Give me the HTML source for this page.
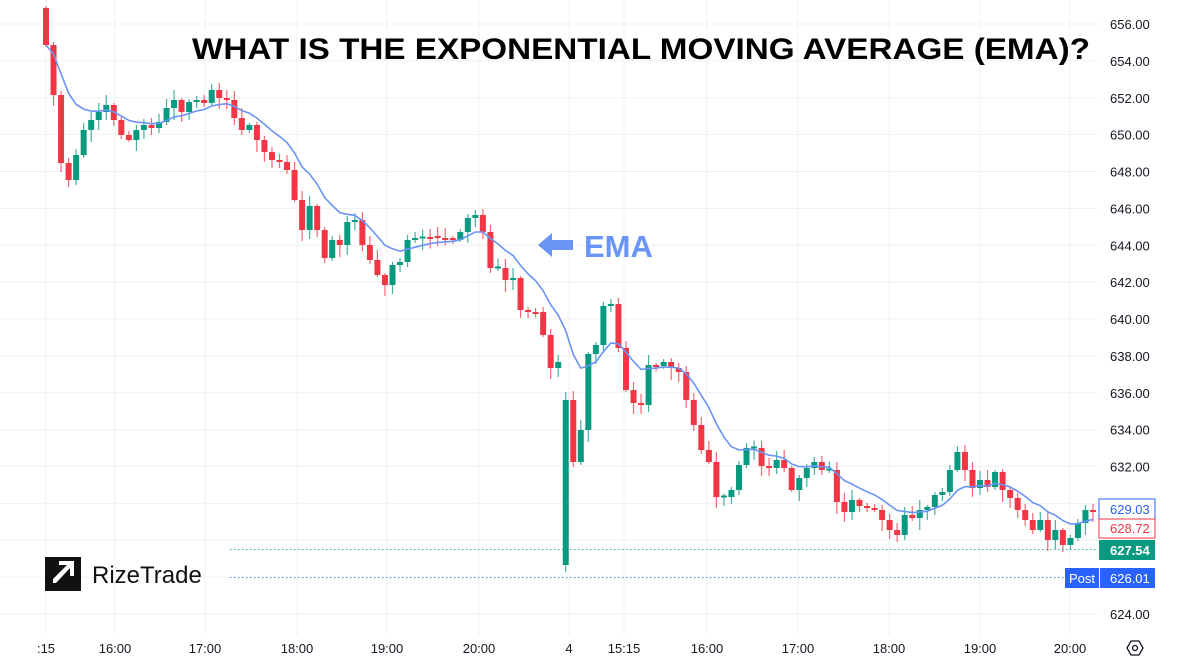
<!DOCTYPE html>
<html><head><meta charset="utf-8"><style>
html,body{margin:0;padding:0;background:#fff;}
svg{display:block;font-family:"Liberation Sans",sans-serif;}
</style></head><body>
<svg id="s" width="1200" height="663" xmlns="http://www.w3.org/2000/svg">
<g id="grid" stroke="#f0f1f3" stroke-width="1"></g>
<g id="candles"></g>
<polyline id="ema" fill="none" stroke="#6a94f5" stroke-width="1.6"/>
<line x1="230" y1="549.5" x2="1098" y2="549.5" stroke="#089981" stroke-width="1" stroke-dasharray="1.5,2.5" opacity="0.8"/>
<line x1="230" y1="577.5" x2="1065" y2="577.5" stroke="#2962ff" stroke-width="1" stroke-dasharray="1.5,2.5" opacity="0.8"/>
<g id="axis" font-size="13" fill="#131722"></g>
<text x="192" y="59" font-size="30" font-weight="bold" fill="#000" textLength="898" lengthAdjust="spacingAndGlyphs">WHAT IS THE EXPONENTIAL MOVING AVERAGE (EMA)?</text>
<polygon points="538,245 552,233 552,240 573,240 573,250 552,250 552,257" fill="#6a94f5"/>
<text x="584" y="257" font-size="31" font-weight="bold" fill="#6a94f5">EMA</text>
<rect x="45" y="557" width="36" height="34" fill="#111"/>
<polygon points="53,583 53,579 67,565 59,565 59,561 74,561 74,576 70,576 70,568 56,583" fill="#fff"/>
<text x="92" y="583" font-size="24" fill="#111">RizeTrade</text>
<rect x="1099" y="499" width="56" height="20" fill="#fff" stroke="#2962ff"/>
<text x="1110" y="514" font-size="13" fill="#2962ff">629.03</text>
<rect x="1099" y="519" width="56" height="19" fill="#fff" stroke="#f23645"/>
<text x="1110" y="533" font-size="13" fill="#f23645">628.72</text>
<rect x="1099" y="540" width="56" height="20" fill="#089981"/>
<text x="1110" y="555" font-size="13" font-weight="bold" fill="#fff">627.54</text>
<rect x="1065" y="568" width="34" height="20" fill="#2962ff"/>
<text x="1069" y="583" font-size="13" fill="#fff">Post</text>
<rect x="1100" y="568" width="55" height="20" fill="#2962ff"/>
<text x="1110" y="583" font-size="13" fill="#fff">626.01</text>
<polygon points="1127,648 1131,641 1139,641 1143,648 1139,655 1131,655" fill="none" stroke="#131722" stroke-width="1.3"/>
<circle cx="1135" cy="648" r="2.5" fill="none" stroke="#131722" stroke-width="1.3"/>
</svg>
<script>
(function(){
var NS="http://www.w3.org/2000/svg";
function el(p,t,a){var e=document.createElementNS(NS,t);for(var k in a)e.setAttribute(k,a[k]);p.appendChild(e);return e;}
var grid=document.getElementById('grid'),axis=document.getElementById('axis');
for(var p=624;p<=656;p+=2){var y=24+(656-p)*18.4375;el(grid,'line',{x1:0,x2:1098,y1:y,y2:y});
 if(p!=628&&p!=630){var t=el(axis,'text',{x:1110,y:y+5});t.textContent=p.toFixed(2);}}
var xs=[[46,':15'],[115,'16:00'],[205,'17:00'],[297,'18:00'],[387,'19:00'],[479,'20:00'],[569,'4'],[624,'15:15'],[707,'16:00'],[798,'17:00'],[889,'18:00'],[980,'19:00'],[1070,'20:00']];
xs.forEach(function(a){el(grid,'line',{x1:a[0],x2:a[0],y1:0,y2:635});var t=el(axis,'text',{x:a[0],y:653,'text-anchor':'middle'});t.textContent=a[1];});
var c=[45,95,163,180,155,130,120,112,105,120,135,140,130,125,128,122,108,100,112,102,100,103,90,98,100,118,130,125,140,152,160,162,170,200,230,206,230,258,240,245,222,220,245,260,275,285,265,262,240,238,237,236,238,238,240,232,218,215,232,268,268,280,278,310,312,312,335,368,362,
400,462,430,354,345,306,304,348,390,403,405,365,366,362,368,372,400,425,
450,462,497,497,490,465,448,448,466,468,460,468,490,478,468,462,470,470,502,512,500,506,508,510,520,530,535,515,518,510,507,495,492,470,452,470,488,480,487,472,490,498,510,520,530,520,540,530,545,538,523,510,512];
var n=c.length,step=(1093-46)/(n-1),g=document.getElementById('candles');
var e=c[0],k=2/(10+1),pts=[];
for(var i=0;i<n;i++){var x=46+i*step,o=i==0?8:(i==69?565:c[i-1]),cl=c[i];
 if(Math.abs(o-cl)<2){cl=o+((i%2)?1.5:-1.5);}
 var up=cl<o,col=up?'#089981':'#f23645';
 var hi=Math.min(o,cl),lo=Math.max(o,cl);
 var w1=2+((i*37)%9),w2=2+((i*53)%11);
 var wl=lo+w2; if(i==69)wl=572;
 el(g,'line',{x1:x,x2:x,y1:hi-w1,y2:wl,stroke:col,'stroke-width':1.2,opacity:0.75});
 el(g,'rect',{x:x-3,y:hi,width:6,height:Math.max(2,lo-hi),fill:col});
 e=i==0?c[0]:e+k*(c[i]-e);pts.push(x.toFixed(1)+','+e.toFixed(1));}
document.getElementById('ema').setAttribute('points',pts.join(' '));
})();
</script>
</body></html>
